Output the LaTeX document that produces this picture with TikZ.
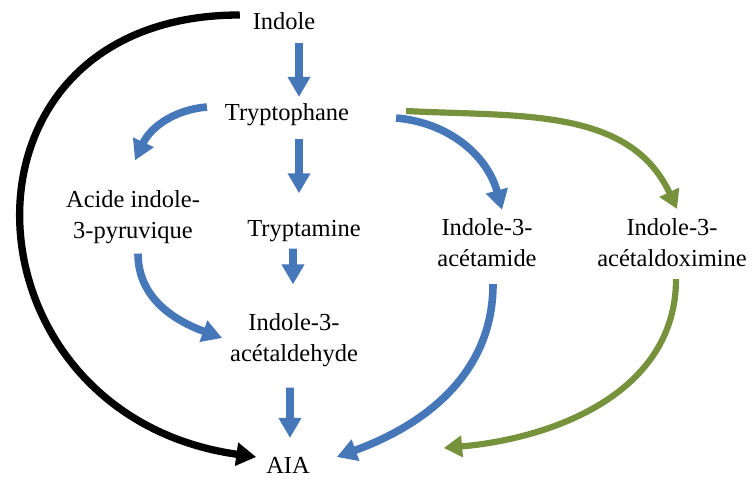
\documentclass[tikz,border=0pt]{standalone}
\usepackage{fontspec}
\setmainfont{Liberation Serif}
\usepackage{xcolor}
\usetikzlibrary{arrows.meta}
\definecolor{pathblue}{RGB}{70,120,185}
\definecolor{pathgreen}{RGB}{118,146,60}

\begin{document}
\begin{tikzpicture}[every node/.style={inner sep=0pt,outer sep=0pt,align=center,font=\fontsize{17.4}{22}\selectfont},
  bluearr/.style={line width=5.4pt,pathblue,-{Triangle[width=0.54cm,length=0.5cm]}},
  greenarr/.style={line width=4.4pt,pathgreen,-{Triangle[width=0.52cm,length=0.46cm]}},
  blackarr/.style={line width=5.2pt,black,-{Triangle[width=0.56cm,length=0.5cm]}}]
  \useasboundingbox (0,0) rectangle (18.825,11.975);
  \node (indole) at (7.1,11.45) {Indole};
  \node (trp) at (7.175,9.1) {Tryptophane};
  \node (acide) at (3.325,6.55) {Acide indole-\\3-pyruvique};
  \node (tam) at (7.6,6.2) {Tryptamine};
  \node (amide) at (12.175,5.9) {Indole-3-\\acétamide};
  \node (oxime) at (16.8,5.9) {Indole-3-\\acétaldoximine};
  \node (ald) at (7.35,3.475) {Indole-3-\\acétaldehyde};
  \node (aia) at (7.2,0.35) {AIA};
  \draw[bluearr] ([shift={(0.375,-0.325)}]indole.south) -- ([shift={(0.3,0.175)}]trp.north);
  \draw[bluearr] ([shift={(0.3,-0.325)}]trp.south) -- ([shift={(-0.125,0.675)}]tam.north);
  \draw[bluearr] ([shift={(-0.275,-0.175)}]tam.south) -- ([shift={(-0.025,0.725)}]ald.north);
  \draw[bluearr] ([shift={(-0.1,-0.525)}]ald.south) -- ([shift={(0.05,0.475)}]aia.north);
  \draw[bluearr] ([shift={(-0.45,0.2)}]trp.west) to[out=185,in=65] ([shift={(0.05,0.75)}]acide.north);
  \draw[bluearr] ([shift={(1.175,-0.075)}]trp.east) to[out=-5,in=105] ([shift={(0.375,0.225)}]amide.north);
  \draw[greenarr] ([shift={(1.425,0.1)}]trp.east) to[out=-3,in=115] ([shift={(0.125,0.25)}]oxime.north);
  \draw[bluearr] ([shift={(0.125,-0.25)}]acide.south) to[out=-90,in=160] ([shift={(-0.2,0.05)}]ald.west);
  \draw[bluearr] ([shift={(0.15,-0.425)}]amide.south) to[out=-90,in=20] ([shift={(0.675,0.2)}]aia.east);
  \draw[greenarr] ([shift={(0.1,-0.3)}]oxime.south) to[out=-90,in=5] ([shift={(3.35,0.425)}]aia.east);
  \draw[blackarr] ([shift={(-0.325,0.15)}]indole.west) to[out=180,in=172,looseness=1.75] ([shift={(-0.25,0.2)}]aia.west);
\end{tikzpicture}
\end{document}
